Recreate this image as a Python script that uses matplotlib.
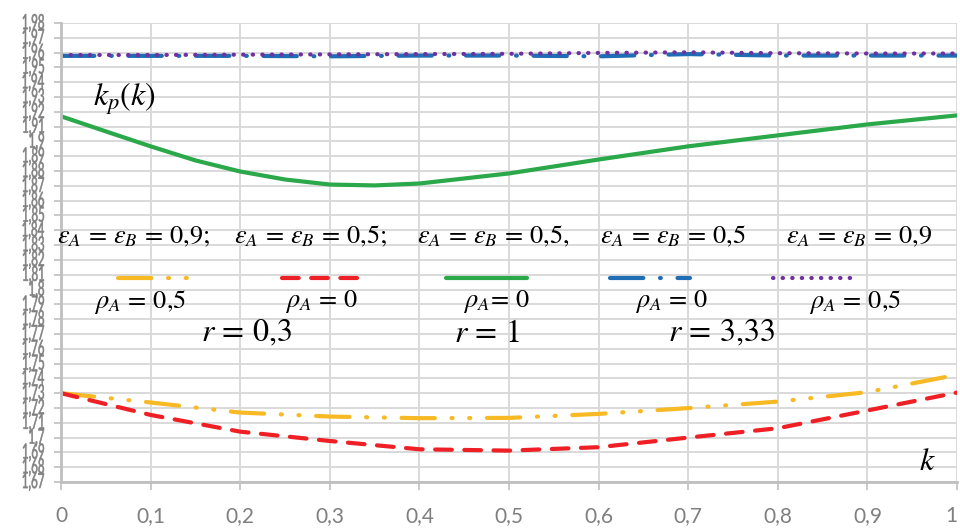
import numpy as np
import matplotlib
matplotlib.use('Agg')
import matplotlib.pyplot as plt
from matplotlib.textpath import TextPath
from matplotlib.patches import PathPatch
from matplotlib.font_manager import FontProperties
from matplotlib.transforms import Affine2D, IdentityTransform

# k values
k = [0, 0.1, 0.2, 0.3, 0.4, 0.5, 0.6, 0.7, 0.8, 0.9, 1.0]
k_green = [0, 0.05, 0.1, 0.15, 0.2, 0.25, 0.3, 0.35, 0.4, 0.5, 0.6, 0.7, 0.8, 0.9, 1.0]

yellow = [1.730, 1.7237, 1.7169, 1.7142, 1.7131, 1.7133, 1.7160, 1.7199, 1.7243, 1.7307, 1.7424]
red = [1.730, 1.7153, 1.7040, 1.6977, 1.6921, 1.6912, 1.6935, 1.7000, 1.7063, 1.7183, 1.7304]
green = [1.9170, 1.9068, 1.8967, 1.8872, 1.8797, 1.8743, 1.8709, 1.8703, 1.8716, 1.8784,
         1.8878, 1.8967, 1.9041, 1.9115, 1.9176]
blue = [1.9578, 1.9578, 1.9578, 1.9575, 1.9580, 1.9580, 1.9575, 1.9590, 1.9580, 1.9580, 1.9580]
purple = [1.9584, 1.9584, 1.9586, 1.9588, 1.9590, 1.9592, 1.9598, 1.9602, 1.9596, 1.9594, 1.9594]

colors = {'yellow': '#F7B924', 'red': '#EE1F25', 'green': '#2BA84A',
          'blue': '#1F6DB5', 'purple': '#7030A0'}

eps_labels = [r'$\varepsilon_A\, =\, \varepsilon_B\, =\, 0{,}9;$',
              r'$\varepsilon_A\, =\, \varepsilon_B\, =\, 0{,}5;$',
              r'$\varepsilon_A\, =\, \varepsilon_B\, =\, 0{,}5,$',
              r'$\varepsilon_A\, =\, \varepsilon_B\, =\, 0{,}5$',
              r'$\varepsilon_A\, =\, \varepsilon_B\, =\, 0{,}9$']
rho_labels = [r'$\rho_A\, =\, 0{,}5$', r'$\rho_A\, =\, 0$', r'$\rho_A\!=\, 0$',
              r'$\rho_A\, =\, 0$', r'$\rho_A\, =\, 0{,}5$']
r_labels = [r'$r\, =\, 0{,}3$', r'$r\, =\, 1$', r'$r\, =\, 3{,}33$']

yticks = np.round(np.arange(1.67, 1.9801, 0.01), 2)
xticks = np.round(np.arange(0, 1.001, 0.1), 1)

plt.rcParams['mathtext.fontset'] = 'stix'

W, H = 960, 528
fig = plt.figure(figsize=(W / 100, H / 100), dpi=100)
L, R, T, B = 61, 957, 23, 482
ax = fig.add_axes([L / W, (H - B) / H, (R - L) / W, (B - T) / H])
ax.set_xlim(0, 1)
ax.set_ylim(1.67, 1.98)

ax.set_xticks(xticks)
ax.set_xticklabels([('%g' % v).replace('.', ',') for v in xticks],
                   fontsize=15, color='#7f7f7f', family='Lato')
ax.get_xticklabels()[-1].set_ha('right')
ax.get_xticklabels()[-1].set_x(1.0)
ax.set_yticks(yticks)
ax.set_yticklabels([])
ax.tick_params(axis='x', length=6, width=1.2, color='#bfbfbf', pad=11)
ax.tick_params(axis='y', length=5, width=1.2, color='#bfbfbf')
ax.grid(True, color='#d9d9d9', lw=1.4)
ax.set_axisbelow(True)
for s in ['top', 'right']:
    ax.spines[s].set_visible(False)
for s in ['left', 'bottom']:
    ax.spines[s].set_color('#bfbfbf')
    ax.spines[s].set_linewidth(2)

styles = {
    'yellow': dict(ls=(0, (8, 4, 0.25, 4, 0.25, 4)), lw=3.0),
    'red': dict(ls=(0, (4, 3)), lw=3.0),
    'green': dict(ls='-', lw=3.0),
    'blue': dict(ls=(0, (8, 4, 0.2, 4)), lw=3.0),
    'purple': dict(ls=(0, (0.1, 2.2)), lw=3.0),
}

series = [('yellow', k, yellow), ('red', k, red), ('green', k_green, green),
          ('blue', k, blue), ('purple', k, purple)]
for name, xs, ys in series:
    ax.plot(xs, ys, color=colors[name], dash_capstyle='round',
            solid_capstyle='round', **styles[name])

# legend-like samples
key_x = [(0.0636, 0.144), (0.2467, 0.337), (0.4297, 0.520), (0.6127, 0.702), (0.7946, 0.884)]
for (name, _, _), (x0, x1) in zip(series, key_x):
    ax.plot([x0, x1], [1.808, 1.808], color=colors[name], dash_capstyle='round',
            solid_capstyle='round', **styles[name])

for txt, x in zip(eps_labels, [0.0815, 0.279, 0.482, 0.683, 0.8906]):
    ax.text(x, 1.8362, txt, fontsize=19, ha='center', va='center')
for txt, x in zip(rho_labels, [0.088, 0.291, 0.4866, 0.682, 0.886]):
    ax.text(x, 1.7918, txt, fontsize=19, ha='center', va='center')
for txt, x in zip(r_labels, [0.2076, 0.4754, 0.7377]):
    ax.text(x, 1.7705, txt, fontsize=23, ha='center', va='center')
ax.text(0.071, 1.9285, r'$k_p(k)$', fontsize=23, ha='center', va='center')
ax.text(0.9665, 1.6840, r'$k$', fontsize=23, ha='center', va='center')

# stretched y tick labels, drawn in pixel coordinates
fp = FontProperties(family='Lato')
for v in yticks:
    lab = ('%g' % v).replace('.', ',')
    tp = TextPath((0, 0), lab, size=11, prop=fp)
    ext = tp.get_extents()
    sx, sy = 1.05, 1.9
    py = H - (B - (v - 1.67) / 0.01 * (B - T) / 31)
    tr = Affine2D().translate(-ext.x1, -(ext.y0 + ext.y1) / 2).scale(sx, sy).translate(44, py)
    patch = PathPatch(tr.transform_path(tp), facecolor='#808080', edgecolor='#808080',
                      lw=0.4, transform=IdentityTransform(), clip_on=False)
    fig.patches.append(patch)

fig.savefig('out.png', dpi=100)
